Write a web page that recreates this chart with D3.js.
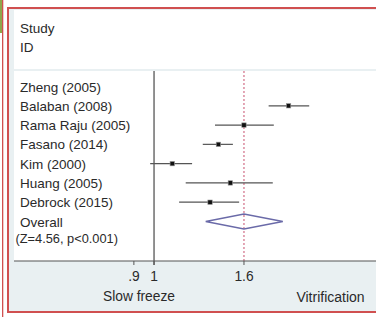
<!DOCTYPE html>
<html lang="en">
<title>Forest plot</title>
<meta charset="UTF-8">
<style>
  body { margin: 0; background: #fff; }
  svg { display: block; font-family: "Liberation Sans", Arial, sans-serif; }
</style>
<script src="https://d3js.org/d3.v7.min.js"></script>
<body>
<svg width="376" height="317"></svg>
<script>
// study labels, point estimates and confidence limits
var studies = ["Zheng (2005)", "Balaban (2008)", "Rama Raju (2005)", "Fasano (2014)",
               "Kim (2000)", "Huang (2005)", "Debrock (2015)"];
var estimate = [null, 2.02, 1.60, 1.40, 1.10, 1.49, 1.34];
var lower    = [null, 1.82, 1.375, 1.29, 0.98, 1.18, 1.14];
var upper    = [null, 2.25, 1.87, 1.51, 1.22, 1.86, 1.56];
var overall = { est: 1.60, lo: 1.31, hi: 1.96 };
var tickValues = [0.9, 1, 1.6];
var tickLabels = [".9", "1", "1.6"];

var svg = d3.select("svg");
var ink = "#2a2a2a";

// frame and panels
svg.append("rect").attr("x", 0).attr("y", 0).attr("width", 2).attr("height", 33).attr("fill", "#8fa64a");
svg.append("rect").attr("x", 2).attr("y", 0).attr("width", 1.3).attr("height", 317).attr("fill", "#d05050");
svg.append("rect").attr("x", 8).attr("y", 8).attr("width", 372).attr("height", 304)
  .attr("fill", "#e9f0f2").attr("stroke", "#d05050").attr("stroke-width", 2);
svg.append("rect").attr("x", 14).attr("y", 10).attr("width", 362).attr("height", 59).attr("fill", "#fff");
svg.append("rect").attr("x", 14).attr("y", 71).attr("width", 362).attr("height", 190).attr("fill", "#fff");

var x = d3.scaleLog().domain([0.481, 3.19]).range([14, 376]);
var rows = studies.concat(["Overall"]);
var y = d3.scalePoint().domain(rows).range([86.5, 221.5]);

// header
svg.append("text").attr("x", 20).attr("y", 33).text("Study").attr("font-size", 13.5).attr("fill", ink);
svg.append("text").attr("x", 20).attr("y", 52).text("ID").attr("font-size", 13.5).attr("fill", ink);

// study labels
svg.selectAll("text.study")
  .data(rows)
  .enter()
  .append("text")
    .attr("class", "study")
    .attr("x", 20)
    .attr("y", d => y(d) + 5)
    .attr("font-size", 13.5)
    .attr("fill", ink)
    .text(d => d);
svg.append("text").attr("x", 15.5).attr("y", y("Overall") + 21)
  .attr("font-size", 12.8).attr("fill", ink).text("(Z=4.56, p<0.001)");

// null line and overall dotted line
svg.append("line").attr("x1", x(1)).attr("x2", x(1)).attr("y1", 71).attr("y2", 265)
  .attr("stroke", "#777").attr("stroke-width", 1.6);
svg.append("line").attr("x1", x(overall.est)).attr("x2", x(overall.est)).attr("y1", 71).attr("y2", 261)
  .attr("stroke", "#c8506e").attr("stroke-width", 1).attr("stroke-dasharray", "2,2");

// confidence intervals and point estimates
var data = studies.map((s, i) => ({ id: s, est: estimate[i], lo: lower[i], hi: upper[i] }))
  .filter(d => d.est != null);

svg.selectAll("line.ci")
  .data(data)
  .enter()
  .append("line")
    .attr("class", "ci")
    .attr("x1", d => x(d.lo))
    .attr("x2", d => x(d.hi))
    .attr("y1", d => y(d.id))
    .attr("y2", d => y(d.id))
    .attr("stroke", "#555")
    .attr("stroke-width", 1.2);

svg.selectAll("rect.pt")
  .data(data)
  .enter()
  .append("rect")
    .attr("class", "pt")
    .attr("x", d => x(d.est) - 2.2)
    .attr("y", d => y(d.id) - 2.2)
    .attr("width", 4.4)
    .attr("height", 4.4)
    .attr("fill", "#111")
    .attr("stroke", "#999")
    .attr("stroke-width", 0.6);

// overall diamond
var yo = y("Overall");
svg.append("path")
  .attr("d", `M${x(overall.lo)},${yo} L${x(overall.est)},${yo - 7.5} L${x(overall.hi)},${yo} L${x(overall.est)},${yo + 7.5} Z`)
  .attr("fill", "none")
  .attr("stroke", "#6a6aa8")
  .attr("stroke-width", 1.3);

// x axis
svg.append("line").attr("x1", 14).attr("x2", 376).attr("y1", 261).attr("y2", 261)
  .attr("stroke", "#555").attr("stroke-width", 1.2);
var axis = svg.selectAll("g.tick")
  .data(tickValues)
  .enter()
  .append("g")
    .attr("class", "tick")
    .attr("transform", d => `translate(${x(d)},261)`);
axis.append("line").attr("y2", 4).attr("stroke", "#555");
axis.append("text")
  .attr("y", 20)
  .attr("text-anchor", "middle")
  .attr("font-size", 13.8)
  .attr("fill", ink)
  .text((d, i) => tickLabels[i]);

svg.append("text").attr("x", 139).attr("y", 301).attr("text-anchor", "middle")
  .attr("font-size", 13.8).attr("fill", ink).text("Slow freeze");
svg.append("text").attr("x", 330.5).attr("y", 302).attr("text-anchor", "middle")
  .attr("font-size", 14).attr("fill", ink).text("Vitrification");
</script>
</body>
</html>
